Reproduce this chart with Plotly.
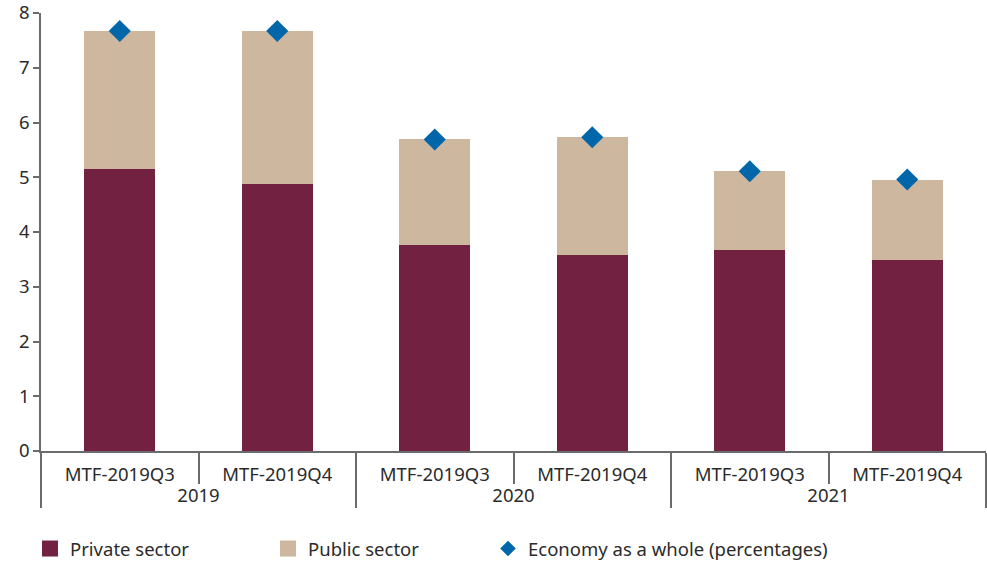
import plotly.graph_objects as go

# Chart data
years = ["2019", "2019", "2020", "2020", "2021", "2021"]
vintages = ["MTF-2019Q3", "MTF-2019Q4", "MTF-2019Q3", "MTF-2019Q4", "MTF-2019Q3", "MTF-2019Q4"]
private_sector = [5.15, 4.88, 3.76, 3.58, 3.67, 3.49]
public_sector = [2.52, 2.79, 1.94, 2.15, 1.44, 1.46]
economy_total = [7.67, 7.67, 5.69, 5.73, 5.11, 4.96]
y_ticks = [0, 1, 2, 3, 4, 5, 6, 7, 8]

C_PRIVATE = "#722140"
C_PUBLIC = "#CDB79E"
C_TOTAL = "#0066AA"
FONT = "Noto Sans"
TXT = "#2b2b2b"
AXIS = "#6b6b6b"
FS = 18.5

x = [years, vintages]

fig = go.Figure()
fig.add_trace(go.Bar(x=x, y=private_sector, name="Private sector",
                     marker=dict(color=C_PRIVATE, line=dict(width=0)),
                     showlegend=False, width=0.45))
fig.add_trace(go.Bar(x=x, y=public_sector, name="Public sector",
                     marker=dict(color=C_PUBLIC, line=dict(width=0)),
                     showlegend=False, width=0.45))
fig.add_trace(go.Scatter(x=x, y=economy_total, mode="markers",
                         name="Economy as a whole (percentages)",
                         marker=dict(symbol="diamond", size=17, color=C_TOTAL),
                         showlegend=False))

# One legend box per entry, placed along the bottom
legend_items = [("Private sector", C_PRIVATE, "square", 16, "legend", 30),
                ("Public sector", C_PUBLIC, "square", 16, "legend2", 268),
                ("Economy as a whole (percentages)", C_TOTAL, "diamond", 12, "legend3", 488)]
legend_layout = {}
for nm, col, sym, sz, lg, left_px in legend_items:
    fig.add_trace(go.Scatter(x=[None], y=[None], mode="markers", name=nm,
                             legend=lg, marker=dict(symbol=sym, size=sz, color=col)))
    legend_layout[lg] = dict(orientation="h", xref="container", x=left_px / 987,
                             xanchor="left", yref="container", y=14 / 563,
                             yanchor="middle", font=dict(size=FS, color=TXT),
                             itemsizing="trace", bgcolor="rgba(0,0,0,0)")

fig.update_layout(
    width=987, height=563,
    barmode="stack",
    plot_bgcolor="white", paper_bgcolor="white",
    margin=dict(l=41, r=1, t=13, b=112),
    font=dict(family=FONT, size=FS, color=TXT),
    xaxis=dict(type="multicategory", showline=True, linecolor=AXIS, linewidth=1.5,
               ticks="outside", tickson="boundaries", ticklen=31, tickcolor=AXIS,
               tickwidth=1.5, showdividers=True, dividercolor=AXIS, dividerwidth=1.5,
               showgrid=False, ticklabelstandoff=6, automargin=False,
               tickfont=dict(size=FS, color=TXT)),
    yaxis=dict(range=[0, 8], tickvals=y_ticks, showline=True, linecolor=AXIS,
               linewidth=1.5, ticks="outside", ticklen=6, tickcolor=AXIS,
               tickwidth=1.5, showgrid=False, zeroline=False, automargin=False,
               ticklabeloverflow="allow", tickfont=dict(size=FS, color=TXT)),
    **legend_layout,
)

fig.write_html("out.html")
